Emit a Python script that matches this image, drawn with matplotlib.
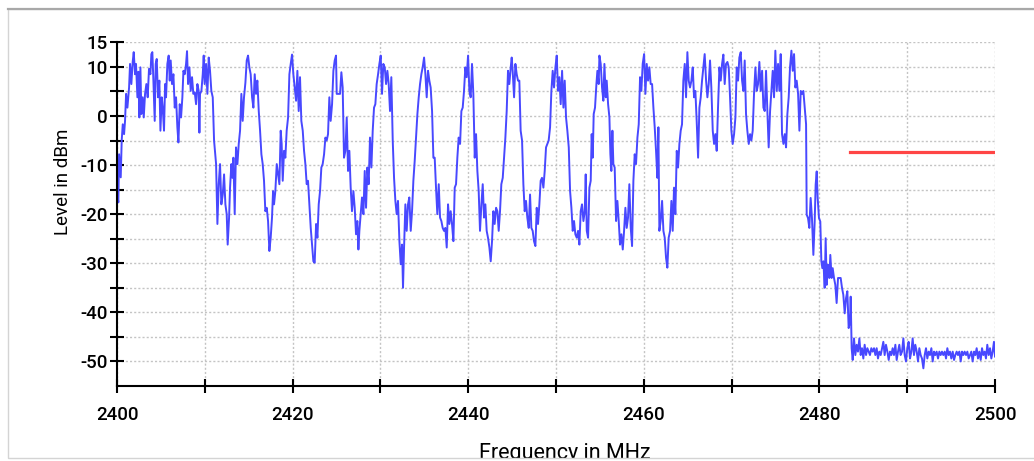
import matplotlib
matplotlib.use('Agg')
import matplotlib.pyplot as plt
from matplotlib.patches import Rectangle
from matplotlib.lines import Line2D

plt.rcParams['font.family'] = ['Roboto', 'DejaVu Sans']

# Spectrum trace (MHz, dBm)
freq_a = [2400.00, 2400.15, 2400.23, 2400.42, 2400.53, 2400.65, 2400.80, 2400.91, 2401.03, 2401.18,
          2401.37, 2401.48, 2401.63, 2401.78, 2401.90, 2402.05, 2402.16, 2402.32, 2402.43, 2402.54,
          2402.66, 2402.77, 2402.92, 2403.04, 2403.19, 2403.34, 2403.49, 2403.64, 2403.80, 2403.91,
          2404.02, 2404.14, 2404.29, 2404.40, 2404.52, 2404.67, 2404.82, 2404.94, 2405.09, 2405.20,
          2405.35, 2405.47, 2405.58, 2405.73, 2405.88, 2406.00, 2406.11, 2406.26, 2406.42, 2406.57,
          2406.72, 2406.87, 2406.99, 2407.14, 2407.29, 2407.44, 2407.56, 2407.71, 2407.86, 2407.97,
          2408.09, 2408.24, 2408.39, 2408.54, 2408.69, 2408.85, 2409.00, 2409.15, 2409.30, 2409.38,
          2409.45, 2409.61, 2409.76, 2409.87, 2409.98, 2410.14, 2410.29, 2410.44, 2410.59, 2410.74,
          2410.90, 2411.05, 2411.28, 2411.43, 2411.58, 2411.73, 2411.88, 2412.04, 2412.19, 2412.34,
          2412.49, 2412.60, 2412.76, 2412.87, 2413.02, 2413.14, 2413.25, 2413.40, 2413.55, 2413.71,
          2413.86, 2414.01, 2414.16, 2414.31, 2414.46, 2414.62, 2414.77, 2414.92, 2415.07, 2415.22,
          2415.38, 2415.53, 2415.68, 2415.83, 2415.98, 2416.14, 2416.29, 2416.44, 2416.59, 2416.74,
          2416.89, 2417.05, 2417.20, 2417.35, 2417.50, 2417.65, 2417.77, 2417.88, 2418.03, 2418.19,
          2418.34, 2418.49, 2418.64, 2418.75, 2418.87, 2419.02, 2419.17, 2419.32, 2419.48, 2419.63,
          2419.78, 2419.93, 2420.08, 2420.24, 2420.39, 2420.54, 2420.69, 2420.84, 2420.99, 2421.15,
          2421.30, 2421.45, 2421.60, 2421.75, 2421.91, 2422.06, 2422.21, 2422.36, 2422.51, 2422.67,
          2422.82, 2422.97, 2423.12, 2423.27, 2423.42, 2423.58, 2423.73, 2423.88, 2424.03, 2424.18]
level_a = [-15.6, -17.6, -7.8, -12.5, -5, -1.7, -3.7, -1, 4.5, 1.7,
           5.8, 10.6, 6.5, 11, 13, 8.5, 10.6, 3.8, 9, -0.3,
           9.9, 0.4, 3.8, -0.3, 4.5, 6.5, 3.8, 9.6, 8.5, 12.6,
           13, 7.2, -1, 10.6, 11.6, 3.8, 7.2, -3, 3.8, 1.7,
           -3, 6.5, 3.8, 10.6, 12.3, 7.2, 11.3, 6.5, 8.5, 1.7,
           3.8, -2.3, -5.4, 2.4, -0.3, 3.8, 9.2, 8.5, 10.6, 13.2,
           6.5, 9.9, 5.1, 7.9, 4.5, 4.8, 2.4, 6.5, 5.1, -3.4,
           4.5, 5.1, 8.5, 12.3, 6.5, 10.6, 4.5, 11.9, 9.2, 5.1,
           3.8, -5, -9.8, -22, -13.9, -9.8, -18, -16, -11.9, -18,
           -20, -26.2, -20.7, -14.6, -9.8, -12.6, -8.5, -20, -6.4, -9.8,
           -5.7, -3, 4.5, -1, 3.8, 6.8, 11.3, 12.3, 9.9, 8.5,
           3.8, 1.7, 8.5, 4.5, 7.2, 1, -3, -7.8, -9.8, -13.2,
           -19.4, -18.7, -21.4, -27.5, -24.8, -20.7, -15.3, -18, -15.3, -9.8,
           -11.9, -13.9, -3, -5.7, -13.2, -7.1, -8.5, -3, -0.3, 8.5,
           10.6, 12.5, 8.5, 5.8, 3.1, 9.2, 1, 7.9, -1, -3,
           -7.1, -9.8, -13.9, -13.2, -18, -22.8, -26.2, -29.6, -29.9, -22,
           -24.8, -18, -15.3, -10.5, -9.8, -7.8, -4.4, -5, -3.7, 3.8]

freq_b = [2424.33, 2424.49, 2424.64, 2424.79, 2424.94, 2425.02, 2425.21, 2425.40, 2425.55, 2425.70,
          2425.85, 2426.01, 2426.16, 2426.31, 2426.46, 2426.61, 2426.76, 2426.92, 2427.07, 2427.22,
          2427.37, 2427.49, 2427.60, 2427.75, 2427.90, 2428.06, 2428.21, 2428.36, 2428.51, 2428.66,
          2428.81, 2428.97, 2429.12, 2429.27, 2429.42, 2429.57, 2429.73, 2429.88, 2430.03, 2430.18,
          2430.33, 2430.49, 2430.64, 2430.79, 2430.94, 2431.09, 2431.24, 2431.40, 2431.55, 2431.70,
          2431.85, 2432.00, 2432.16, 2432.31, 2432.46, 2432.57, 2432.69, 2432.84, 2432.99, 2433.14,
          2433.29, 2433.45, 2433.60, 2433.75, 2433.90, 2434.05, 2434.21, 2434.36, 2434.51, 2434.66,
          2434.81, 2434.97, 2435.12, 2435.27, 2435.42, 2435.57, 2435.72, 2435.88, 2436.03, 2436.18,
          2436.33, 2436.48, 2436.64, 2436.79, 2436.94, 2437.09, 2437.24, 2437.39, 2437.55, 2437.70,
          2437.85, 2438.00, 2438.15, 2438.31, 2438.46, 2438.61, 2438.76, 2438.91, 2439.07, 2439.22,
          2439.37, 2439.52, 2439.67, 2439.82, 2439.98, 2440.13, 2440.28, 2440.43, 2440.58, 2440.74,
          2440.89, 2441.04, 2441.19, 2441.34, 2441.50, 2441.65, 2441.80, 2441.95, 2442.10, 2442.25,
          2442.41, 2442.56, 2442.71, 2442.86, 2443.01, 2443.17, 2443.32, 2443.47, 2443.62, 2443.77,
          2443.93, 2444.08, 2444.23, 2444.38, 2444.53, 2444.68, 2444.84, 2444.95, 2445.06, 2445.22,
          2445.37, 2445.52, 2445.67, 2445.82, 2445.97, 2446.13, 2446.28, 2446.43, 2446.58, 2446.73,
          2446.89, 2447.04, 2447.19, 2447.34, 2447.49, 2447.65, 2447.80, 2447.95, 2448.10, 2448.25,
          2448.40, 2448.56, 2448.71, 2448.86, 2449.01, 2449.16, 2449.32]
level_b = [-1, 2.4, 9.2, 11.3, 12.3, 4.5, 4.5, 4.5, 8.9, 5.8,
           -8.5, -7.1, -0.3, -11.2, -7.1, -14.6, -19.4, -15.3, -18.7, -24.1,
           -21.4, -27.2, -23.4, -20, -16.6, -20, -11.2, -18.7, -10.5, -13.9,
           -4.4, -10.5, -3, 1.7, 2.4, 6.5, 8.5, 10.6, 12.3, 4.5,
           10.6, 9.9, 6.5, 9.2, 6.5, 1, 7.9, -5, -12.6, -17.3,
           -20, -17.3, -25.5, -30.2, -26.2, -35, -26.8, -18, -23.4, -18,
           -16.6, -23.4, -19.4, -13.2, -9.2, -4.4, 0.4, 3.8, 6.5, 8.5,
           9.9, 11.9, 8.5, 3.8, 9.2, 7.2, 5.8, 1, -8.5, -8.5,
           -14.6, -20, -13.9, -20.7, -21.4, -22.8, -23.4, -22.8, -26.8, -18,
           -22, -19.4, -22, -25.5, -14.6, -13.9, -8.5, -4.4, -5.7, 1,
           1.7, 5.1, 9.9, 7.9, 12.3, 5.1, 3.8, 10.6, 4.5, -8.5,
           -3.7, -11.2, -15.3, -23.4, -18, -13.9, -20.7, -18, -23.4, -24.8,
           -26.8, -29.6, -25.5, -19.4, -22, -18.7, -19.4, -23.4, -19.4, -13.9,
           -12.6, -8.5, -4.4, 1, 9.2, 6.5, 9.9, 11.9, 9.2, 3.8,
           10.6, 8.5, 7.2, 7.2, -3, -5, -13.9, -19.4, -17.3, -20.7,
           -22.8, -16, -22.8, -23.4, -25.5, -26.5, -18.7, -22, -18, -13.2,
           -12.6, -14.6, -11.2, -6.4, -5.7, -5, -2.3]

freq_c = [2449.47, 2449.62, 2449.77, 2449.93, 2450.08, 2450.23, 2450.38, 2450.53, 2450.69, 2450.84,
          2450.99, 2451.14, 2451.29, 2451.45, 2451.60, 2451.75, 2451.90, 2452.05, 2452.20, 2452.36,
          2452.51, 2452.66, 2452.81, 2452.96, 2453.12, 2453.27, 2453.38, 2453.50, 2453.65, 2453.80,
          2453.95, 2454.06, 2454.18, 2454.29, 2454.44, 2454.60, 2454.71, 2454.86, 2454.94, 2455.09,
          2455.24, 2455.39, 2455.51, 2455.66, 2455.77, 2455.93, 2456.08, 2456.19, 2456.30, 2456.42,
          2456.53, 2456.68, 2456.84, 2456.99, 2457.14, 2457.29, 2457.44, 2457.60, 2457.75, 2457.90,
          2458.05, 2458.20, 2458.35, 2458.51, 2458.66, 2458.81, 2458.96, 2459.11, 2459.27, 2459.42,
          2459.57, 2459.72, 2459.87, 2460.03, 2460.18, 2460.33, 2460.48, 2460.63, 2460.78, 2460.94,
          2461.09, 2461.24, 2461.39, 2461.54, 2461.66, 2461.77, 2461.92, 2462.08, 2462.23, 2462.38,
          2462.53, 2462.68, 2462.83, 2462.99, 2463.14, 2463.29, 2463.44, 2463.59, 2463.75, 2463.90,
          2464.05, 2464.20, 2464.35, 2464.50, 2464.66, 2464.81, 2464.96, 2465.11, 2465.26, 2465.42,
          2465.57, 2465.72, 2465.87, 2466.02, 2466.18, 2466.33, 2466.48, 2466.63, 2466.78, 2466.93,
          2467.09, 2467.24, 2467.39, 2467.54, 2467.69, 2467.85, 2468.00, 2468.15, 2468.30, 2468.45,
          2468.61, 2468.76, 2468.91, 2469.06, 2469.21, 2469.36, 2469.52, 2469.67, 2469.82, 2469.97,
          2470.12, 2470.28, 2470.43, 2470.58, 2470.73, 2470.88, 2471.04, 2471.19, 2471.34, 2471.49,
          2471.64, 2471.79, 2471.95, 2472.10, 2472.25, 2472.40, 2472.55, 2472.71, 2472.86, 2473.01,
          2473.16, 2473.31, 2473.47, 2473.62, 2473.77, 2473.92, 2474.07, 2474.22, 2474.38, 2474.53,
          2474.68, 2474.83, 2474.98, 2475.14, 2475.29, 2475.44, 2475.59, 2475.74, 2475.90, 2476.05,
          2476.20, 2476.35, 2476.50, 2476.65, 2476.81, 2476.96, 2477.11, 2477.26, 2477.41, 2477.57,
          2477.72, 2477.87, 2478.02, 2478.17, 2478.33, 2478.48]
level_c = [5.1, 9.2, 5.8, 9.9, 12.3, 5.1, 7.9, 2.4, 9.2, 1.7,
           7.2, -0.3, -3, -6.4, -15.3, -18.7, -23.4, -21.4, -24.1, -24.8,
           -23.4, -26.2, -19.4, -18, -21.4, -19.4, -11.9, -23.4, -24.8, -14.6,
           -13.2, -3.7, -8.5, 0.4, 1.7, 6.5, 9.2, 6.5, 12.3, 10.6,
           5.8, 3.1, 10.6, 3.8, 7.2, 2.4, -0.3, -7.8, -11.2, -3,
           -9.8, -10.5, -21.4, -17.3, -21.4, -26.2, -24.1, -27.2, -23.4, -18.7,
           -22.8, -20.7, -13.9, -22.8, -26.5, -13.2, -7.8, -9.8, -4.4, -1.7,
           7.9, 5.1, 10.6, 12.6, 4.5, 10.6, 7.2, 9.9, 6.5, 6.5,
           1.7, -2.3, -7.1, -12.6, -2.3, -23.4, -21.4, -17.3, -23.4, -24.8,
           -28.9, -30.9, -24.8, -23.4, -17.3, -23.4, -14.6, -20, -7.1, -10.5,
           -5.7, -3, -1.7, 7.2, 10.6, 3.8, 13, 7.2, 5.8, 7.2,
           9.9, 3.8, 5.1, -1, -8.5, 1.7, 3.8, 7.2, 9.9, 12.6,
           7.2, 3.8, 6.5, 11.3, 5.8, -3, -5.7, -3.7, -7.1, 1.7,
           9.9, 7.2, 10.6, 12.5, 6.5, 10.6, 11, 9.9, 3.8, -3,
           -5.7, -3.7, -0.3, 9.9, 7.2, 11.9, 13, 7.2, 5.1, 11.3,
           0.4, -3, -5.7, -3.7, -5, -3, 4.5, 9.9, 5.1, 6.5,
           11, 5.1, 9.2, 1.7, 1, 9.2, 1, -6.4, 1, 5.1,
           9.2, 3.8, 13.3, 5.1, 10.6, 5.1, 12.6, -3.7, -5.7, -3.7,
           -6.4, 0.4, 3.8, 9.9, 13.3, 9.2, 12.6, 5.8, 7.2, 4.5,
           -3, 5.1, 4.5, 5.1, 1.7, -1.7]

freq_d = [2478.55, 2478.70, 2478.85, 2479.00, 2479.15, 2479.31, 2479.46, 2479.57, 2479.69, 2479.80,
          2479.95, 2480.10, 2480.22, 2480.33, 2480.45, 2480.60, 2480.71, 2480.83, 2480.98, 2481.13,
          2481.24, 2481.39, 2481.51, 2481.66, 2481.81, 2481.96, 2482.12, 2482.27, 2482.42, 2482.57,
          2482.72, 2482.88, 2483.03, 2483.18, 2483.33, 2483.48, 2483.56, 2483.67, 2483.79, 2483.94,
          2484.09, 2484.24, 2484.39, 2484.55, 2484.70, 2484.85, 2485.00, 2485.15, 2485.31, 2485.46,
          2485.61, 2485.76, 2485.91, 2486.06, 2486.22, 2486.37, 2486.52, 2486.67, 2486.82, 2486.98,
          2487.13, 2487.28, 2487.43, 2487.58, 2487.74, 2487.89, 2488.04, 2488.19, 2488.34, 2488.49,
          2488.65, 2488.80, 2488.95, 2489.10, 2489.25, 2489.41, 2489.56, 2489.71, 2489.86, 2490.01,
          2490.16, 2490.32, 2490.47, 2490.62, 2490.77, 2490.92, 2491.08, 2491.23, 2491.38, 2491.53,
          2491.68, 2491.84, 2491.99, 2492.14, 2492.29, 2492.44, 2492.59, 2492.75, 2492.90, 2493.05,
          2493.20, 2493.35, 2493.51, 2493.66, 2493.81, 2493.96, 2494.11, 2494.27, 2494.42, 2494.57,
          2494.72, 2494.87, 2495.02, 2495.18, 2495.33, 2495.48, 2495.63, 2495.78, 2495.94, 2496.09,
          2496.24, 2496.39, 2496.54, 2496.70, 2496.85, 2497.00, 2497.15, 2497.30, 2497.45, 2497.61,
          2497.76, 2497.91, 2498.06, 2498.21, 2498.37, 2498.52, 2498.67, 2498.82, 2498.97, 2499.12,
          2499.28, 2499.43, 2499.58, 2499.73, 2499.88, 2500.00]
level_d = [-20.1, -20.8, -22.8, -16.7, -20.8, -28.3, -21.5, -14, -11.3, -16.7,
           -20.8, -21.5, -29.6, -31, -29.6, -35, -24.9, -34.4, -30.3, -33,
           -28.3, -33, -31, -33, -34.4, -38.1, -33, -33, -33, -35,
           -36.4, -40.2, -37.1, -35.7, -43.2, -41.9, -36.8, -47.3, -49.7, -45.3,
           -48.7, -46.6, -48, -45.3, -48.7, -47.3, -49.4, -46.6, -48.7, -47.3,
           -48, -48.7, -47.3, -48, -47.3, -48.7, -47.3, -49.4, -48, -48.7,
           -47.3, -46, -48.7, -46.6, -48, -49.7, -48, -48.7, -47.3, -48.7,
           -46.6, -49.7, -48, -46.6, -48.7, -48, -45.3, -48.7, -50, -47.3,
           -46, -49.4, -48, -45.3, -48.7, -46.6, -48, -50, -47.3, -48.7,
           -49.4, -51.4, -48.7, -47.3, -49.4, -48, -48.7, -47.3, -50, -48,
           -48.7, -48, -49.4, -48, -48.7, -48, -48.7, -48, -49.4, -47.3,
           -48.7, -48, -49.4, -48, -49.7, -48.7, -48, -48.7, -48, -50,
           -48, -48.7, -48, -48.7, -48, -49.4, -48.7, -48, -50, -48,
           -48.7, -47.3, -49.4, -48, -49.7, -47.3, -48.7, -48, -49.4, -46.6,
           -48.7, -47.3, -49.4, -48, -46, -49]

# Limit line
limit_freq = [2483.5, 2500.0]
limit_level = [-7.4, -7.4]

x_ticks = [2400, 2410, 2420, 2430, 2440, 2450, 2460, 2470, 2480, 2490, 2500]
x_tick_labels = ['2400', '', '2420', '', '2440', '', '2460', '', '2480', '', '2500']
y_ticks = [-50, -45, -40, -35, -30, -25, -20, -15, -10, -5, 0, 5, 10, 15]
y_tick_labels = ['-50', '', '-40', '', '-30', '', '-20', '', '-10', '', '0', '', '10', '15']

freq = freq_a + freq_b + freq_c + freq_d
level = level_a + level_b + level_c + level_d

fig = plt.figure(figsize=(10.34, 4.61), dpi=100, facecolor='white')
ax = fig.add_axes([0.1132, 0.1627, 0.8491, 0.7455])

ax.plot(freq, level, color='#4848ff', linewidth=1.4, zorder=3)
ax.plot(limit_freq, limit_level, color='#ff4545', linewidth=2.3, zorder=4)

ax.set_xlim(2400, 2500)
ax.set_ylim(-55, 15)

ax.set_xticks(x_ticks)
ax.set_xticklabels(x_tick_labels)
ax.set_yticks(y_ticks)
ax.set_yticklabels(y_tick_labels)

ax.tick_params(axis='both', direction='inout', length=10.5, width=1.5,
               colors='black', labelsize=13.5)
ax.tick_params(axis='x', pad=9.5)
ax.tick_params(axis='y', pad=1.2)
for lbl in ax.get_xticklabels() + ax.get_yticklabels():
    lbl.set_fontweight('medium')

# dotted grid on every tick
ax.grid(True, color='#c4c4c4', linestyle=(0, (1.5, 1.5)), linewidth=1.0)
ax.set_axisbelow(True)

for side in ['top', 'right']:
    ax.spines[side].set_visible(False)
for side in ['left', 'bottom']:
    ax.spines[side].set_linewidth(1.5)
    ax.spines[side].set_zorder(5)

ax.set_ylabel('Level in dBm', fontsize=13.5)
ax.yaxis.set_label_coords(-0.051, 0.594)
ax.set_xlabel('Frequency in MHz', fontsize=15.5)
ax.xaxis.label.set_va('baseline')
ax.xaxis.set_label_coords(0.51, -0.2124)

# outer frame of the panel; the x label runs past its lower edge and is cut off
fig.add_artist(Rectangle((0, 0), 1, 3 / 461, transform=fig.transFigure,
                         facecolor='white', edgecolor='none', zorder=2))
fig.add_artist(Rectangle((8 / 1034, 3 / 461), 1.1, 449 / 461, transform=fig.transFigure,
                         fill=False, edgecolor='#d4d4d4', linewidth=1.0, zorder=3))
fig.add_artist(Line2D([8 / 1034, 1.0], [1 - 9.5 / 461, 1 - 9.5 / 461], transform=fig.transFigure,
                      color='#a8a8a8', linewidth=1.6, zorder=3))

fig.savefig('out.png', dpi=100)
